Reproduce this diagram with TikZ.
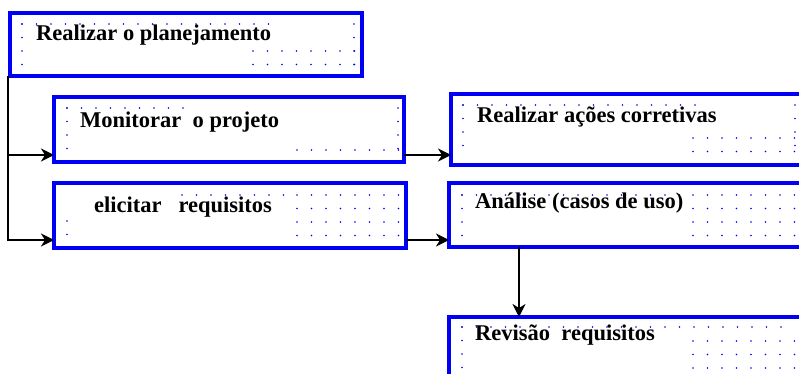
\documentclass[tikz,border=0pt]{standalone}
\usepackage{fontspec}
\setmainfont{Liberation Serif}[BoldFont={Liberation Serif Bold}]
\usetikzlibrary{positioning,arrows.meta}

\definecolor{boxblue}{RGB}{0,0,245}

\tikzset{
  etapa/.style={draw=boxblue, line width=3.5pt, rectangle, anchor=north west,
    inner sep=0pt, outer sep=0pt, fill=white},
  rotulo/.style={anchor=base west, inner sep=0pt, font=\fontsize{22.5}{27}\selectfont\bfseries},
  seta/.style={-{Stealth[length=13pt,width=13pt,inset=4pt]}, line width=1.8pt}
}

% grade de pontos: x0, colunas, y0, linhas
\newcommand{\pontos}[4]{%
  \foreach \i in {0,...,#2}{\foreach \j in {0,...,#4}{%
    \fill[boxblue] ({#1+14.5*\i},{#3+13.5*\j}) circle (0.8pt);}}}

\begin{document}
\begin{tikzpicture}[x=1pt,y=-1pt]
        \useasboundingbox (0,0) rectangle (799,374);
        \clip (0,0) rectangle (799,374);

        % caixas
        \node (plan) at (10,13) [etapa, minimum width=352pt, minimum height=63pt] {};
        \node (monit) at (54,97) [etapa, minimum width=350pt, minimum height=65pt] {};
        \node (elic) at (54,183) [etapa, minimum width=352pt, minimum height=65pt] {};
        \node (acoes) at (451,94) [etapa, minimum width=400pt, minimum height=71pt] {};
        \node (anal) at (449,183) [etapa, minimum width=400pt, minimum height=64pt] {};
        \node (revis) at (449,317) [etapa, minimum width=400pt, minimum height=100pt] {};

        % pontos
        \pontos{22}{17}{24}{0} \pontos{22}{0}{24}{3} \pontos{354}{0}{24}{3} \pontos{253}{7}{51}{1}
        \pontos{67}{8}{108}{0} \pontos{67}{0}{108}{3} \pontos{398}{0}{108}{3} \pontos{297}{7}{150}{0}
        \pontos{67}{0}{221}{1} \pontos{182}{7}{195}{0} \pontos{297}{7}{195}{3}
        \pontos{463}{16}{105}{0} \pontos{463}{0}{105}{3} \pontos{693}{8}{138}{1} \pontos{795}{0}{105}{3}
        \pontos{462}{15}{195}{0} \pontos{462}{0}{195}{3} \pontos{693}{8}{195}{3}
        \pontos{462}{22}{327}{0} \pontos{462}{0}{327}{3} \pontos{693}{8}{341}{2}

        % textos
        \node (tplan) at ([xshift=26pt,yshift=-28pt]plan.north west) [rotulo] {Realizar o planejamento};
        \node (tmonit) at ([xshift=26pt,yshift=-31pt]monit.north west) [rotulo] {Monitorar\ \ o projeto};
        \node (telic) at ([xshift=40pt,yshift=-29pt]elic.north west) [rotulo] {elicitar\ \ \ requisitos};
        \node (tacoes) at ([xshift=26pt,yshift=-29pt]acoes.north west) [rotulo] {Realizar ações corretivas};
        \node (tanal) at ([xshift=26pt,yshift=-25pt]anal.north west) [rotulo] {Análise (casos de uso)};
        \node (trevis) at ([xshift=26pt,yshift=-23pt]revis.north west) [rotulo] {Revisão\ \ requisitos};

        % ligacoes
        \coordinate (tronco) at ([xshift=-2pt]plan.south west);
        \coordinate (emonit) at ([yshift=7pt]monit.south west);
        \coordinate (eelic) at ([yshift=8pt]elic.south west);
        \draw [seta] (tronco) |- (emonit);
        \draw [seta] (tronco) |- (eelic);
        \draw [seta] ([yshift=7pt]monit.south east) -- ([yshift=7pt]monit.south east -| acoes.west);
        \draw [seta] ([yshift=8pt]elic.south east) -- ([yshift=8pt]elic.south east -| anal.west);
        \draw [seta] ([xshift=70pt]anal.south west) -- ([xshift=70pt]anal.south west |- revis.north);
    \end{tikzpicture}
\end{document}
